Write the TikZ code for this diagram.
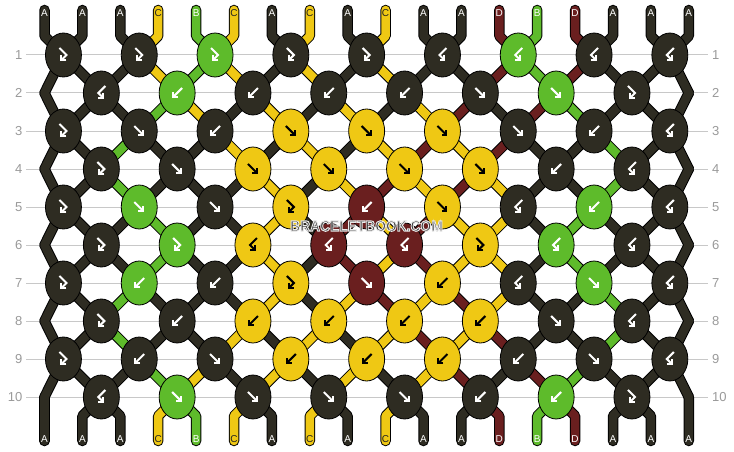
\documentclass[tikz,border=0pt]{standalone}
\usepackage{fontspec}
\setmainfont{Liberation Sans}
\usetikzlibrary{arrows.meta,shapes.geometric}
\definecolor{c0}{HTML}{2E2C22}
\definecolor{c1}{HTML}{5EBB2B}
\definecolor{c2}{HTML}{EFC814}
\definecolor{c3}{HTML}{6A1F1F}
\colorlet{t0}{white}
\colorlet{t1}{white}
\definecolor{t2}{HTML}{222222}
\colorlet{t3}{white}
\definecolor{gridgray}{HTML}{C8C8C8}
\definecolor{numgray}{HTML}{9A9A9A}
\definecolor{wmgray}{HTML}{3A3A3A}
% string colour states (0=A dark, 1=B green, 2=C yellow, 3=D red)
\def\kstZ{{0,0,0,2,1,2,0,2,0,2,0,0,3,1,3,0,0,0}}
\def\kstB{{0,0,0,1,2,0,2,0,2,0,2,3,0,3,1,0,0,0}}
\def\kstC{{0,0,1,0,0,2,0,2,0,2,3,2,3,0,0,1,0,0}}
\def\kstD{{0,0,1,0,0,0,2,0,2,3,2,3,2,0,0,1,0,0}}
\def\kstE{{0,0,0,1,0,0,2,0,3,2,3,2,2,0,1,0,0,0}}
% knot types (0=F, 1=B, 2=FB, 3=BF)
\def\ktyA{{2,2,2,2,2,3,3,3,3}}
\def\ktyB{{3,1,1,1,1,0,0,2}}
\def\ktyC{{2,0,1,0,0,0,0,1,3}}
\def\ktyD{{2,0,0,0,0,0,1,3}}
\def\ktyE{{2,0,0,2,1,0,3,1,3}}
\def\ktyF{{2,2,3,3,3,2,3,3}}
\def\ktyG{{2,1,1,2,0,1,3,0,3}}
\def\ktyH{{2,1,1,1,1,1,0,3}}
\def\ktyI{{2,1,0,1,1,1,1,0,3}}
\def\ktyJ{{3,0,0,0,0,1,1,2}}
\begin{document}
\begin{tikzpicture}[x=1pt,y=-1pt,
  strout/.style={line width=10.5pt, color=black, line cap=round, line join=round},
  strcol/.style={line width=8.5pt, line cap=round, line join=round},
  knot/.style={ellipse, draw=black, line width=0.8pt, minimum width=36pt, minimum height=44pt, inner sep=0pt},
  glyph/.style={line width=2pt, -{Straight Barb[length=3.5pt,width=7pt]}},
  lab/.style={font=\fontsize{10}{10}\selectfont, inner sep=0pt},
  num/.style={font=\fontsize{13}{13}\selectfont, text=numgray, inner sep=0pt},
  rowline/.style={draw=gridgray, line width=1pt},
  wm/.style={font=\fontsize{13.8}{14}\selectfont\bfseries, inner sep=0pt, yscale=1.1, transform shape}]
\useasboundingbox (0,0) rectangle (734,452);
\fill[white] (0,0) rectangle (734,452);
% coordinates
\foreach \ix in {0,...,17}{
  \coordinate (t\ix) at ({44.5+37.9*\ix},10);
  \coordinate (ta\ix) at ({44.5+37.9*\ix},36);
  \coordinate (ba\ix) at ({44.5+37.9*\ix},416);
  \coordinate (b\ix) at ({44.5+37.9*\ix},441);
}
\foreach \rw in {1,...,10}{
  \foreach \ix in {0,...,17}{
    \pgfmathsetmacro\px{isodd(\rw) ? 63.45+75.8*int(\ix/2) : (\ix==0 ? 44.5 : (\ix==17 ? 688.8 : 101.35+75.8*int((\ix-1)/2)))}
    \coordinate (p\rw-\ix) at (\px,{55+38*(\rw-1)});
  }
}
% row lines and numbers
\foreach \rw in {1,...,10}{
  \coordinate (gl\rw) at (26,{55+38*(\rw-1)});
  \coordinate (gr\rw) at (708,{55+38*(\rw-1)});
  \draw[rowline] (gl\rw) -- (gr\rw);
  \node[num, anchor=east] (nl\rw) at (22.5,{55+38*(\rw-1)}) {\rw};
  \node[num, anchor=west] (nr\rw) at (712,{55+38*(\rw-1)}) {\rw};
}
% string outlines
\foreach \ix in {0,...,17}{
  \draw[strout] (t\ix) -- (ta\ix) -- (p1-\ix);
  \draw[strout] (p10-\ix) -- (ba\ix) -- (b\ix);
}
\foreach \rw in {1,...,9}{
  \pgfmathtruncatemacro\rn{\rw+1}
  \foreach \ix in {0,...,17}{
    \draw[strout] (p\rw-\ix) -- (p\rn-\ix);
  }
}
% string colours
\foreach \ix in {0,...,17}{
  \pgfmathtruncatemacro\scl{\kstZ[\ix]}
  \draw[strcol, color=c\scl] (t\ix) -- (ta\ix) -- (p1-\ix);
  \draw[strcol, color=c\scl] (p10-\ix) -- (ba\ix) -- (b\ix);
}
\foreach \rw/\Sa in {1/\kstZ,2/\kstB,3/\kstC,4/\kstD,5/\kstE,6/\kstE,7/\kstD,8/\kstC,9/\kstB}{
  \pgfmathtruncatemacro\rn{\rw+1}
  \foreach \ix in {0,...,17}{
    \pgfmathtruncatemacro\scl{\Sa[\ix]}
    \draw[strcol, color=c\scl] (p\rw-\ix) -- (p\rn-\ix);
  }
}
% knots
\foreach \rw/\ty/\Sp in {1/\ktyA/\kstZ,2/\ktyB/\kstZ,3/\ktyC/\kstB,4/\ktyD/\kstC,5/\ktyE/\kstD,6/\ktyF/\kstE,7/\ktyG/\kstE,8/\ktyH/\kstD,9/\ktyI/\kstC,10/\ktyJ/\kstB}{
  \pgfmathtruncatemacro\nk{isodd(\rw) ? 8 : 7}
  \foreach \kk in {0,...,\nk}{
    \pgfmathtruncatemacro\kt{\ty[\kk]}
    \pgfmathtruncatemacro\lp{isodd(\rw) ? 2*\kk : 2*\kk+1}
    \pgfmathtruncatemacro\kc{\Sp[\lp+mod(\kt,2)]}
    \node[knot, fill=c\kc] (k\rw-\kk) at (p\rw-\lp) {};
    \ifnum\kc=2 \def\gc{black}\else\def\gc{white}\fi
    \begin{scope}[shift={(k\rw-\kk.center)}]
      \ifcase\kt
        \draw[glyph, color=\gc] (-5,-5) -- (5,5);
      \or
        \draw[glyph, color=\gc] (5,-5) -- (-5,5);
      \or
        \draw[glyph, color=\gc, line join=miter] (-4,-7) -- (3,0) -- (-3,6);
      \or
        \draw[glyph, color=\gc, line join=miter] (4,-7) -- (-3,0) -- (3,6);
      \fi
    \end{scope}
  }
}
% string labels
\foreach \ix in {0,...,17}{
  \pgfmathtruncatemacro\scl{\kstZ[\ix]}
  \node[lab, text=t\scl] (lt\ix) at ({44.5+37.9*\ix},13) {\ifcase\scl A\or B\or C\or D\fi};
  \node[lab, text=t\scl] (lb\ix) at ({44.5+37.9*\ix},439) {\ifcase\scl A\or B\or C\or D\fi};
}
% watermark (dark letters with a light outline)
\coordinate (wmc) at (366.5,226);
\node[wm, text=wmgray] (wm) at (wmc) {\special{pdf:literal direct 2 Tr 0.92 0.92 0.92 RG 0.9 w}BRACELETBOOK.COM\special{pdf:literal direct 0 Tr}};
\end{tikzpicture}
\end{document}
